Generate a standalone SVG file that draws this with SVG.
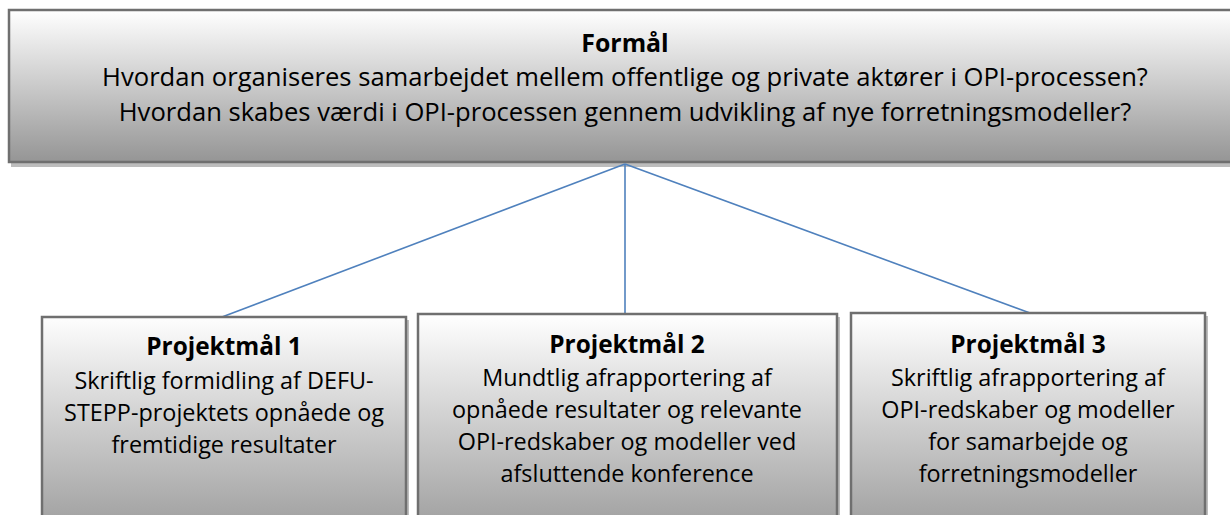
<svg xmlns="http://www.w3.org/2000/svg" width="1230" height="515" viewBox="0 0 1230 515">
  <defs>
    <linearGradient id="gTop" x1="0" y1="0" x2="0" y2="1">
      <stop offset="0" stop-color="#ffffff"/>
      <stop offset="1" stop-color="#959595"/>
    </linearGradient>
    <linearGradient id="gBot" gradientUnits="userSpaceOnUse" x1="0" y1="314" x2="0" y2="540">
      <stop offset="0" stop-color="#ffffff"/>
      <stop offset="1" stop-color="#9a9a9a"/>
    </linearGradient>
    <style>
      .box { stroke: #6f6f6f; stroke-width: 2.5; }
      .shadow { fill: #bdbdbd; }
      .t { font-family: "Open Sans", "Noto Sans", sans-serif; font-size: 23.4px; fill: #000; text-anchor: middle; }
      .top { font-size: 25.6px; }
      .b { font-weight: bold; font-size: 24.4px; }
      .conn { stroke: #4f81bd; stroke-width: 1.6; fill: none; }
    </style>
  </defs>
  <rect width="1230" height="515" fill="#ffffff"/>

  <g id="formaal">
    <rect class="shadow" x="11" y="13" width="1230" height="154"/>
    <rect class="box" x="9" y="10" width="1240" height="152" fill="url(#gTop)"/>
    <text class="t b" x="625" y="52" style="font-size:24.9px">Formål</text>
    <text class="t top" x="625" y="86">Hvordan organiseres samarbejdet mellem offentlige og private aktører i OPI-processen?</text>
    <text class="t top" x="625" y="121">Hvordan skabes værdi i OPI-processen gennem udvikling af nye forretningsmodeller?</text>
  </g>

  <g id="connectors">
    <line class="conn" x1="625" y1="164" x2="222" y2="317"/>
    <line class="conn" x1="625" y1="164" x2="625" y2="314"/>
    <line class="conn" x1="625" y1="164" x2="1030" y2="313"/>
  </g>

  <g id="projektmaal1">
    <rect class="shadow" x="45" y="320" width="364" height="220"/>
    <rect class="box" x="42" y="317" width="364" height="220" fill="url(#gBot)"/>
    <text class="t b" x="224" y="355">Projektmål 1</text>
    <text class="t" x="224" y="389">Skriftlig formidling af DEFU-</text>
    <text class="t" x="224" y="421">STEPP-projektets opnåede og</text>
    <text class="t" x="224" y="453">fremtidige resultater</text>
  </g>

  <g id="projektmaal2">
    <rect class="shadow" x="421" y="317" width="419" height="220"/>
    <rect class="box" x="418" y="314" width="419" height="220" fill="url(#gBot)"/>
    <text class="t b" x="627" y="353">Projektmål 2</text>
    <text class="t" x="627" y="386">Mundtlig afrapportering af</text>
    <text class="t" x="627" y="418">opnåede resultater og relevante</text>
    <text class="t" x="627" y="450">OPI-redskaber og modeller ved</text>
    <text class="t" x="627" y="482">afsluttende konference</text>
  </g>

  <g id="projektmaal3">
    <rect class="shadow" x="854" y="316" width="354" height="220"/>
    <rect class="box" x="851" y="313" width="354" height="220" fill="url(#gBot)"/>
    <text class="t b" x="1028" y="353">Projektmål 3</text>
    <text class="t" x="1028" y="386">Skriftlig afrapportering af</text>
    <text class="t" x="1028" y="418">OPI-redskaber og modeller</text>
    <text class="t" x="1028" y="450">for samarbejde og</text>
    <text class="t" x="1028" y="482">forretningsmodeller</text>
  </g>
</svg>
